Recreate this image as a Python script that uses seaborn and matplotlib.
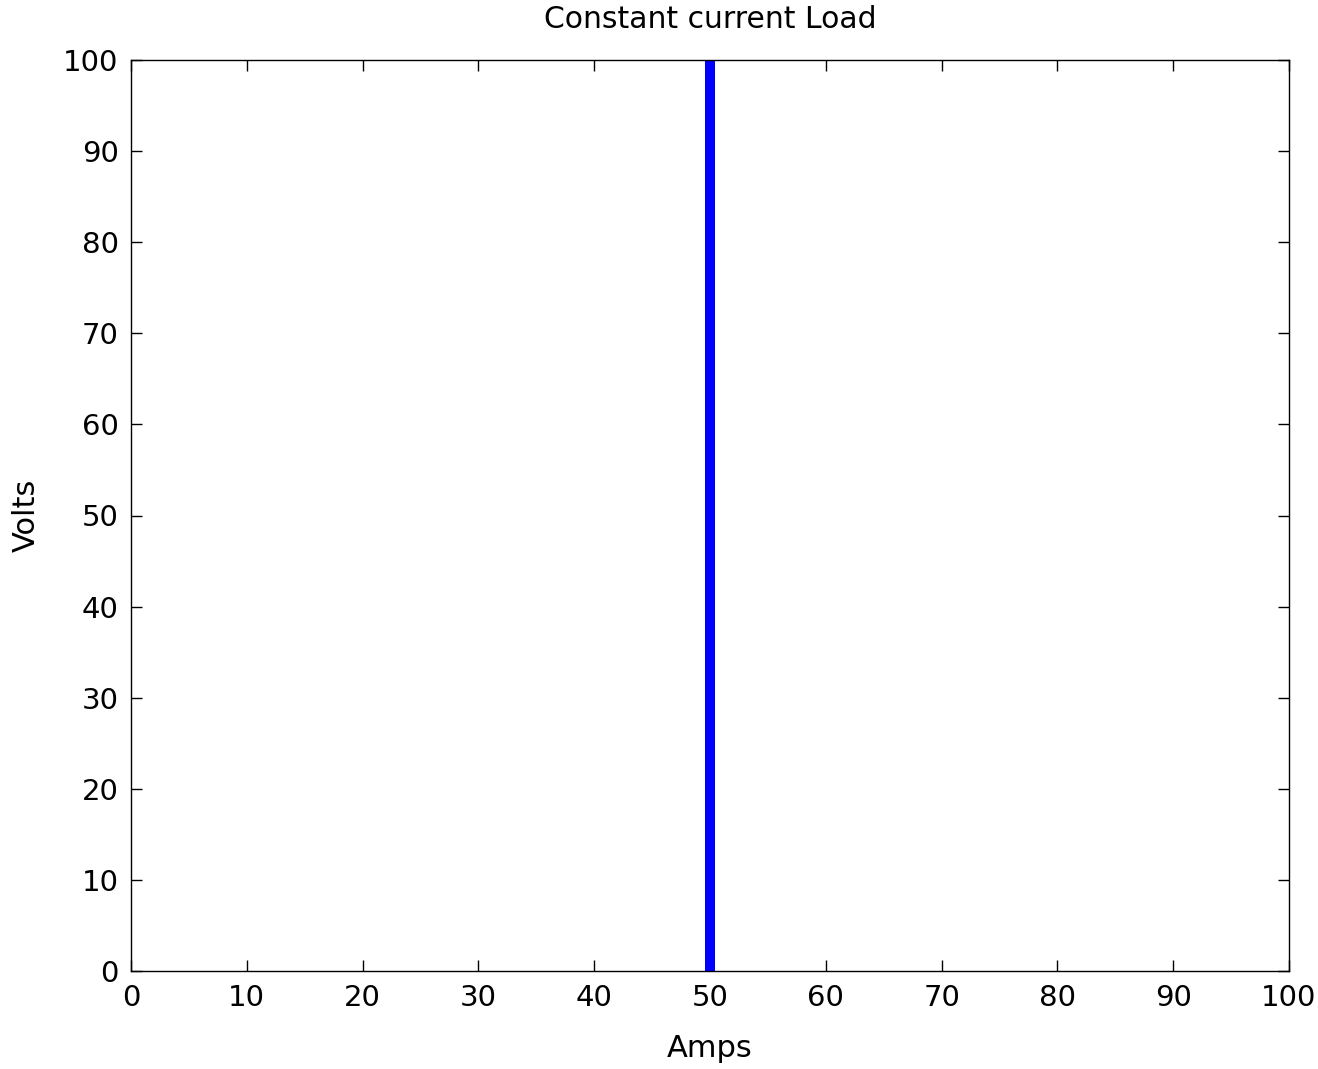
import matplotlib
matplotlib.use("Agg")
import matplotlib.pyplot as plt
import seaborn as sns

current_amps = [50, 50]
voltage_volts = [0, 100]
x_ticks = [0, 10, 20, 30, 40, 50, 60, 70, 80, 90, 100]
y_ticks = [0, 10, 20, 30, 40, 50, 60, 70, 80, 90, 100]

sns.set_theme(style="white")
plt.rcParams['font.family'] = ['DejaVu Sans']

fig = plt.figure(figsize=(13.18, 10.69), dpi=100)
ax = fig.add_axes([131/1318, 1 - 971/1069, (1289-131)/1318, (971-60)/1069])

sns.lineplot(x=current_amps, y=voltage_volts, estimator=None, sort=False,
             color=(0, 0, 1), linewidth=7.2, ax=ax)

ax.set_xlim(0, 100)
ax.set_ylim(0, 100)
ax.set_xticks(x_ticks)
ax.set_yticks(y_ticks)
for s in ax.spines.values():
    s.set_visible(True)
    s.set_color('black')
    s.set_linewidth(1.0)
ax.tick_params(direction='in', length=8, width=1.0, top=True, right=True,
               bottom=True, left=True, labelsize=21, colors='black', pad=9)
ax.set_xlabel("Amps", fontsize=22, labelpad=16, color='black')
ax.set_ylabel("Volts", fontsize=22, labelpad=16, color='black')
ax.set_title("Constant current Load", fontsize=21.5, pad=23, color='black')

fig.savefig("out.png", dpi=100, facecolor='white')
